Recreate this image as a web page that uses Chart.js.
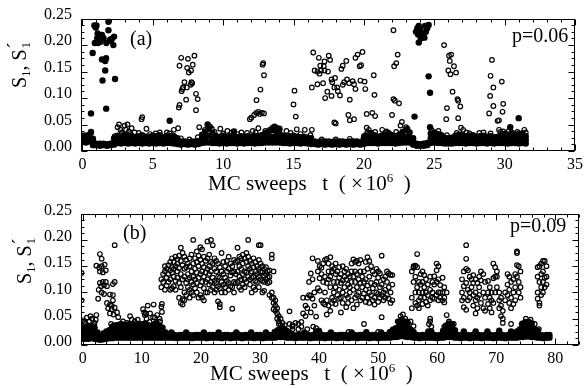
<!DOCTYPE html>
<html>
<head>
<meta charset="utf-8">
<script src="https://cdn.jsdelivr.net/npm/chart.js@4.4.0/dist/chart.umd.min.js"></script>
<style>
body { margin: 0; background: #fff; }
canvas { position: absolute; left: 0; }
#panelA { top: 0; }
#panelB { top: 195px; }
</style>
</head>
<body>
<canvas id="panelA" width="587" height="195"></canvas>
<canvas id="panelB" width="587" height="193"></canvas>
<script>
var FONT = '"Liberation Serif", "Times New Roman", serif';

// tick labels
var yTickValues = [0, 0.05, 0.10, 0.15, 0.20, 0.25];
var aTickValues = [0, 5, 10, 15, 20, 25, 30, 35];
var bTickValues = [0, 10, 20, 30, 40, 50, 60, 70, 80];

// rows are [t, S, S, ...]  (t in units of 10^6 MC sweeps)

// ---- panel (a), p=0.06 ----
var aFilledBand = [
 [0.0,0.017,0.023,0.029],[0.25,0.016,0.022,0.028],[0.5,0.018,0.025,0.031],[0.75,0.011,0.017,0.023],
 [1.0,0.011,0.014],[1.25,0.010,0.014],[1.5,0.011,0.014],[1.75,0.010,0.013],[2.0,0.011,0.014],
 [2.25,0.012,0.018,0.024],[2.5,0.015,0.022,0.029],[2.75,0.014,0.021,0.027],[3.0,0.015,0.022,0.030],
 [3.25,0.014,0.021,0.028],[3.5,0.015,0.022,0.029],[3.75,0.014,0.020,0.026],[4.0,0.015,0.021,0.028],
 [4.25,0.014,0.022,0.030],[4.5,0.015,0.021,0.027],[4.75,0.014,0.020,0.027],[5.0,0.015,0.022,0.029],
 [5.25,0.014,0.021,0.028],[5.5,0.015,0.022,0.030],[5.75,0.014,0.020,0.026],[6.0,0.015,0.022,0.029],
 [6.25,0.015,0.021,0.028],[6.5,0.014,0.021,0.028],[6.75,0.013,0.019,0.024],[7.0,0.012,0.018],
 [7.25,0.013,0.018],[7.5,0.012,0.017],[7.75,0.013,0.018],[8.0,0.012,0.018],[8.25,0.013,0.019],
 [8.5,0.015,0.023,0.031],[8.75,0.016,0.026,0.037],[9.0,0.016,0.028,0.042],[9.25,0.015,0.024,0.034],
 [9.5,0.015,0.021,0.028],[9.75,0.014,0.021,0.027],[10.0,0.015,0.022,0.029],[10.25,0.014,0.020,0.026],
 [10.5,0.015,0.021,0.028],[10.75,0.015,0.022,0.030],[11.0,0.014,0.020,0.026],[11.25,0.015,0.021,0.028],
 [11.5,0.014,0.020,0.027],[11.75,0.015,0.022,0.028],[12.0,0.015,0.021,0.027],[12.25,0.014,0.021,0.028],
 [12.5,0.015,0.022,0.029],[12.75,0.015,0.022,0.030],[13.0,0.016,0.025,0.034],[13.25,0.016,0.026,0.037],
 [13.5,0.016,0.027,0.040],[13.75,0.016,0.026,0.038],[14.0,0.016,0.024,0.033],[14.25,0.015,0.022,0.029],
 [14.5,0.015,0.021,0.027],[14.75,0.014,0.021,0.028],[15.0,0.015,0.022,0.029],[15.25,0.015,0.021,0.027],
 [15.5,0.014,0.020,0.026],[15.75,0.015,0.021,0.027],[16.0,0.014,0.020,0.025],[16.25,0.013,0.019,0.024],
 [16.5,0.013,0.018],[16.75,0.012,0.017],[17.0,0.013,0.018],[17.25,0.012,0.018],[17.5,0.013,0.018],
 [17.75,0.012,0.017],[18.0,0.013,0.018],[18.25,0.012,0.018],[18.5,0.013,0.018],[18.75,0.012,0.017],
 [19.0,0.013,0.018],[19.25,0.012,0.018],[19.5,0.013,0.018],[19.75,0.012,0.017],[20.0,0.013,0.019,0.024],
 [20.25,0.015,0.022,0.029],[20.5,0.015,0.024,0.034],[20.75,0.015,0.022,0.030],[21.0,0.014,0.021,0.027],
 [21.25,0.015,0.022,0.029],[21.5,0.015,0.022,0.030],[21.75,0.015,0.024,0.034],[22.0,0.015,0.022,0.030],
 [22.25,0.014,0.021,0.028],[22.5,0.015,0.023,0.031],[22.75,0.016,0.025,0.036],[23.0,0.016,0.027,0.040],
 [23.25,0.016,0.025,0.035],[23.5,0.012,0.018,0.024],[23.75,0.010,0.014],[24.0,0.010,0.013],
 [24.25,0.010,0.014],[24.5,0.011,0.015],[24.75,0.015,0.024,0.033],[25.0,0.016,0.025,0.035],
 [25.25,0.015,0.024,0.032],[25.5,0.015,0.022,0.030],[25.75,0.014,0.020,0.025],[26.0,0.014,0.019,0.024],
 [26.25,0.014,0.020,0.025],[26.5,0.015,0.022,0.029],[26.75,0.015,0.023,0.031],[27.0,0.015,0.022,0.030],
 [27.25,0.014,0.021,0.028],[27.5,0.015,0.022,0.029],[27.75,0.015,0.022,0.030],[28.0,0.014,0.021,0.027],
 [28.25,0.015,0.021,0.028],[28.5,0.015,0.022,0.029],[28.75,0.014,0.020,0.027],[29.0,0.015,0.021,0.028],
 [29.25,0.014,0.020,0.026],[29.5,0.015,0.021,0.027],[29.75,0.015,0.022,0.030],[30.0,0.015,0.023,0.032],
 [30.25,0.014,0.022,0.031],[30.5,0.015,0.024,0.034],[30.75,0.015,0.023,0.031],[31.0,0.014,0.022,0.030],
 [31.25,0.015,0.024,0.033],[31.5,0.014,0.021,0.028]
];
var aFilledPeaks = [
 [0.61,0.071,0.036],[0.73,0.185],[0.85,0.237],[1.0,0.237],[0.95,0.233],[1.08,0.222],[0.88,0.204],
 [1.1,0.204],[1.25,0.206],[1.05,0.213],[1.39,0.219,0.173],[1.5,0.213],[1.62,0.17,0.152],[1.68,0.175],
 [1.43,0.133],[1.69,0.08],[1.85,0.244,0.228],[1.97,0.21],[2.1,0.212],[2.25,0.216],[1.7,0.204],
 [2.0,0.208],[2.2,0.2],[2.32,0.136],[6.2,0.057],[8.9,0.05],[10.77,0.037],[13.66,0.046],[13.8,0.043],
 [14.0,0.042],[23.7,0.225],[23.8,0.232],[23.9,0.236,0.205],[24.0,0.228],[24.1,0.222],[24.2,0.218],
 [24.3,0.214],[24.4,0.225],[24.5,0.232],[24.6,0.238,0.141],[24.35,0.236],[23.85,0.22],[24.05,0.213],
 [24.7,0.11,0.045],[23.6,0.065],[31.0,0.062],[30.4,0.045]
];
var aOpenBand = [
 [0.2,0.03],[0.6,0.034],[2.3,0.028],[4.0,0.034],[4.8,0.032],[5.5,0.035],[6.2,0.033],[7.0,0.024],
 [7.6,0.022],[8.2,0.026],[8.7,0.04],[9.4,0.036],[10.0,0.033],[10.6,0.035],[11.0,0.032],[11.7,0.034],
 [12.3,0.035],[13.0,0.038],[13.5,0.044],[14.0,0.04],[14.8,0.034],[15.5,0.032],[16.2,0.03],[17.0,0.022],
 [18.0,0.022],[19.0,0.023],[20.0,0.028],[20.8,0.036],[21.5,0.034],[22.3,0.036],[23.1,0.042],[24.8,0.04],
 [25.3,0.038],[25.9,0.03],[26.6,0.034],[27.5,0.033],[28.2,0.034],[29.0,0.033],[29.7,0.036],[30.3,0.038],
 [30.9,0.036],[31.5,0.035]
];
var aOpenPeaks = [
 [2.5,0.045],[2.6,0.05],[2.7,0.04],[2.8,0.035],[3.0,0.048],[3.1,0.04],[3.2,0.05],[3.3,0.037],[3.5,0.043],
 [2.9,0.03],[3.4,0.032],[3.7,0.035],[4.2,0.06],[4.25,0.064],[4.55,0.042],[5.2,0.033],[6.0,0.035],[6.5,0.04],
 [7.02,0.176],[6.9,0.161,0.087],[7.5,0.174],[7.96,0.18],[7.84,0.163],[7.44,0.157],[7.56,0.148],
 [7.72,0.152],[7.25,0.13],[7.1,0.117],[7.15,0.12],[7.05,0.113],[7.42,0.12],[7.75,0.13],[7.8,0.128],
 [7.7,0.125],[8.07,0.108,0.077],[7.37,0.097],[8.19,0.098],[6.85,0.082],[6.8,0.043],[8.3,0.045],
 [9.08,0.046],[9.2,0.042],[9.8,0.042],[10.3,0.038],
 [11.9,0.06],[12.0,0.063],[12.2,0.068],[12.35,0.072],[12.5,0.074,0.043],[12.6,0.07],[12.75,0.072],
 [12.9,0.071,0.143],[12.37,0.096],[12.65,0.116],[12.8,0.163],[12.85,0.166],[12.1,0.038],[11.3,0.035],
 [13.3,0.04],[14.5,0.038],
 [15.07,0.114],[15.0,0.088],[15.16,0.065],[15.23,0.041],[15.8,0.04],[16.3,0.04,0.12],[16.4,0.186],
 [16.8,0.176],[17.2,0.169,0.152],[17.5,0.18],[17.6,0.172],[16.5,0.152],[16.7,0.15,0.126],[16.95,0.152],
 [16.85,0.146],[17.45,0.15],[16.9,0.161],[17.15,0.16],[17.7,0.135,0.104],[17.75,0.13],[17.95,0.138],
 [17.1,0.128],[17.4,0.112],[17.9,0.12,0.054],[18.1,0.12],[18.15,0.113],[18.3,0.105],[17.25,0.1],
 [18.4,0.155],[18.5,0.161,0.125],[18.75,0.17],[18.6,0.13],[18.8,0.135],[18.95,0.128],[19.2,0.132],
 [19.3,0.126,0.06],[19.4,0.117,0.176],[19.0,0.097,0.058],[19.55,0.182],[19.9,0.187],[19.7,0.16],
 [19.8,0.162],[19.75,0.133],[20.05,0.131],[20.1,0.117,0.03],[18.9,0.068],[18.0,0.052],[20.2,0.07,0.044],
 [20.6,0.072],[20.8,0.066],[20.75,0.106],[20.7,0.143],[20.35,0.04],[20.25,0.035],
 [22.1,0.228,0.098],[22.4,0.182],[22.3,0.166],[22.15,0.16],[22.2,0.095],[22.5,0.09],[22.0,0.068],
 [22.7,0.055],[22.6,0.048],[21.3,0.04],[21.6,0.037],[23.0,0.045],
 [25.7,0.2],[26.05,0.18],[26.2,0.182],[26.1,0.17],[26.4,0.16],[26.0,0.152],[26.15,0.145],[26.55,0.148],
 [26.3,0.112],[26.65,0.098],[26.7,0.095,0.062],[26.85,0.084],[25.9,0.081],[25.85,0.06],[26.9,0.044],
 [27.05,0.04],[27.3,0.035],
 [29.1,0.172],[29.0,0.142],[29.2,0.12,0.085],[28.97,0.104],[29.8,0.131],[29.9,0.089,0.037],[28.9,0.071],
 [29.85,0.074],[29.6,0.058,0.04],[29.5,0.057],[31.4,0.04],[30.5,0.035],[28.5,0.035],[31.0,0.033]
];

// ---- panel (b), p=0.09 ----
var bFilledBand = [
 [0.0,0.012,0.019,0.026,0.033],[0.5,0.012,0.020,0.028,0.035],[1.0,0.012,0.019,0.027,0.034],
 [1.5,0.013,0.020,0.028,0.036],[2.0,0.012,0.019,0.026,0.033],[2.5,0.011,0.017,0.024],[3.0,0.010,0.015],
 [3.5,0.011,0.017,0.022],[4.0,0.012,0.019,0.026],[4.5,0.013,0.020,0.028],[5.0,0.013,0.021,0.029,0.035],
 [5.5,0.014,0.021,0.029,0.037],[6.0,0.014,0.022,0.030,0.038],[6.5,0.014,0.022,0.031,0.040],
 [7.0,0.014,0.021,0.029,0.037],[7.5,0.014,0.022,0.030,0.038],[8.0,0.014,0.022,0.031,0.040],
 [8.5,0.014,0.021,0.029,0.036],[9.0,0.014,0.022,0.030,0.039],[9.5,0.014,0.022,0.031,0.040],
 [10.0,0.014,0.021,0.029,0.037],[10.5,0.014,0.022,0.031,0.041],[11.0,0.014,0.022,0.030,0.038],
 [11.5,0.014,0.021,0.029,0.036],[12.0,0.014,0.022,0.030,0.039],[12.5,0.014,0.022,0.031,0.040],
 [13.0,0.014,0.021,0.029,0.037],[13.5,0.014,0.020,0.027,0.033],[14.0,0.014,0.019,0.024],
 [14.5,0.014,0.019],[15.0,0.014,0.019,0.024],[15.5,0.014,0.019],[16.0,0.013,0.018],[16.5,0.014,0.019],
 [17.0,0.014,0.019],[17.5,0.014,0.019,0.024],[18.0,0.014,0.019],[18.5,0.013,0.018],[19.0,0.014,0.019],
 [19.5,0.014,0.019],[20.0,0.014,0.019],[20.5,0.014,0.019,0.024],[21.0,0.013,0.018],[21.5,0.014,0.019],
 [22.0,0.014,0.019],[22.5,0.014,0.019],[23.0,0.014,0.019,0.024],[23.5,0.013,0.018],[24.0,0.014,0.019],
 [24.5,0.014,0.019],[25.0,0.013,0.018],[25.5,0.014,0.019],[26.0,0.014,0.019,0.024],[26.5,0.014,0.019],
 [27.0,0.013,0.018],[27.5,0.014,0.019],[28.0,0.014,0.019],[28.5,0.014,0.019,0.024],[29.0,0.013,0.018],
 [29.5,0.014,0.019],[30.0,0.014,0.019],[30.5,0.013,0.018],[31.0,0.014,0.019,0.024],[31.5,0.014,0.019],
 [32.0,0.014,0.019],[32.5,0.014,0.020,0.025],[33.0,0.015,0.021,0.028],[33.5,0.015,0.022,0.030],
 [34.0,0.015,0.022,0.029],[34.5,0.014,0.020,0.026],[35.0,0.014,0.019,0.024],[35.5,0.014,0.019],
 [36.0,0.013,0.018],[36.5,0.014,0.019],[37.0,0.014,0.019],[37.5,0.014,0.019,0.024],[38.0,0.014,0.019],
 [38.5,0.013,0.018],[39.0,0.014,0.019],[39.5,0.014,0.020,0.026],[40.0,0.014,0.020,0.026],
 [40.5,0.014,0.019],[41.0,0.013,0.018],[41.5,0.014,0.019],[42.0,0.014,0.019,0.024],[42.5,0.014,0.019],
 [43.0,0.013,0.018],[43.5,0.014,0.019],[44.0,0.014,0.019],[44.5,0.014,0.019],[45.0,0.013,0.018],
 [45.5,0.014,0.019,0.024],[46.0,0.014,0.019],[46.5,0.013,0.018],[47.0,0.014,0.019],[47.5,0.014,0.019],
 [48.0,0.014,0.019,0.024],[48.5,0.013,0.018],[49.0,0.014,0.019],[49.5,0.014,0.019],[50.0,0.013,0.018],
 [50.5,0.014,0.019,0.024],[51.0,0.014,0.019],[51.5,0.014,0.019],[52.0,0.014,0.020,0.025],
 [52.5,0.015,0.022,0.029],[53.0,0.015,0.023,0.032],[53.5,0.016,0.025,0.035,0.044],
 [54.0,0.017,0.027,0.038,0.048],[54.5,0.016,0.026,0.036,0.045],[55.0,0.015,0.024,0.033,0.041],
 [55.5,0.015,0.022,0.029],[56.0,0.014,0.020,0.025],[56.5,0.014,0.019],[57.0,0.013,0.018],
 [57.5,0.014,0.019],[58.0,0.014,0.019],[58.5,0.014,0.020,0.026],[59.0,0.014,0.020,0.026],
 [59.5,0.014,0.019],[60.0,0.013,0.018],[60.5,0.014,0.019],[61.0,0.014,0.021,0.027],
 [61.5,0.015,0.023,0.031,0.037],[62.0,0.015,0.024,0.033,0.041],[62.5,0.015,0.023,0.032,0.039],
 [63.0,0.014,0.021,0.028],[63.5,0.014,0.019],[64.0,0.013,0.018],[64.5,0.014,0.020,0.026],
 [65.0,0.014,0.019],[65.5,0.013,0.018],[66.0,0.014,0.019],[66.5,0.014,0.020,0.026],[67.0,0.014,0.019],
 [67.5,0.013,0.018],[68.0,0.014,0.019],[68.5,0.014,0.020,0.026],[69.0,0.014,0.019],[69.5,0.013,0.018],
 [70.0,0.014,0.019],[70.5,0.014,0.020,0.027],[71.0,0.014,0.019],[71.5,0.013,0.018],[72.0,0.014,0.019],
 [72.5,0.014,0.020,0.026],[73.0,0.014,0.019],[73.5,0.014,0.020,0.026],[74.0,0.015,0.022,0.030],
 [74.5,0.015,0.024,0.033,0.041],[75.0,0.016,0.025,0.035,0.044],[75.5,0.016,0.025,0.035,0.044],
 [76.0,0.015,0.024,0.033,0.041],[76.5,0.015,0.022,0.030],[77.0,0.014,0.021,0.027],[77.5,0.014,0.019],
 [78.0,0.013,0.018],[78.5,0.014,0.019],[79.0,0.014,0.019]
];
var bOpenLow = [
 [0.1,0.047],[0.3,0.043],[0.5,0.04],[0.8,0.035],[1.1,0.045],[1.3,0.055],[1.6,0.05],[1.8,0.038],
 [2.0,0.042],[2.2,0.048],[0.7,0.052],[2.3,0.057],[6.5,0.04],[9.0,0.038],[33.6,0.03],[34.5,0.028],
 [35.5,0.035],[36.5,0.03],[38.0,0.03],[39.0,0.035],[40.0,0.028],[45.0,0.025],[48.0,0.025],[50.0,0.025],
 [53.3,0.045],[53.8,0.055],[54.2,0.058],[54.6,0.05],[55.0,0.044],[55.5,0.045],[56.0,0.036],[58.6,0.04],
 [58.8,0.045],[59.0,0.035],[61.2,0.035],[62.0,0.045],[62.8,0.04],[74.3,0.04],[75.0,0.05],[75.8,0.048],
 [76.5,0.04],[77.2,0.03]
];
var bOpenEarly = [
 [-0.2,0.137,0.085],[2.9,0.173,0.14,0.118],[3.2,0.164,0.15,0.1],[2.3,0.151],[2.8,0.147],[3.7,0.153],
 [3.4,0.138,0.12],[3.9,0.142,0.12],[5.4,0.19,0.12,0.071],[3.1,0.112],[3.6,0.114,0.097],[4.1,0.112,0.08],
 [2.7,0.105],[2.6,0.088],[5.1,0.116,0.095,0.085,0.036],[4.6,0.096,0.077,0.06],[4.9,0.075,0.068],
 [4.3,0.07],[5.2,0.058],[5.8,0.062],[6.0,0.053,0.035],[4.8,0.04],[6.3,0.038],[7.0,0.035],[8.0,0.055],
 [8.3,0.048],[8.8,0.045],[9.3,0.048],[9.8,0.04],[10.2,0.068],[10.4,0.062],[10.5,0.057],[10.7,0.06],
 [11.0,0.075],[11.4,0.06],[10.8,0.05],[11.3,0.044],[11.9,0.053],[12.0,0.077],[12.2,0.052],[12.6,0.057],
 [13.0,0.05],[13.3,0.073],[13.4,0.063,0.078],[13.1,0.045],[7.5,0.042],[12.4,0.042],[11.7,0.035],[6.8,0.045]
];
var bOpenCloud1 = [
 [13.3,0.11,0.125],[13.6,0.135,0.12],[13.9,0.14,0.105,0.15],[14.2,0.145,0.128,0.113],
 [14.5,0.152,0.135,0.12],[14.8,0.142,0.158,0.125,0.105],[15.1,0.165,0.138,0.148,0.108],
 [15.4,0.158,0.13,0.112,0.145],[15.7,0.168,0.15,0.122,0.105],[16.0,0.163,0.14,0.128,0.155],
 [16.3,0.17,0.146,0.118,0.09],[16.6,0.185,0.16,0.135,0.08,0.11],[16.9,0.175,0.152,0.125,0.087,0.077],
 [17.2,0.168,0.145,0.13,0.1,0.085],[17.5,0.162,0.148,0.118,0.095],[17.8,0.155,0.135,0.11,0.125],
 [18.1,0.165,0.15,0.128,0.105,0.09],[18.4,0.172,0.14,0.12,0.1],[18.7,0.2,0.155,0.13,0.115,0.095],
 [19.0,0.165,0.145,0.125,0.108],[19.3,0.178,0.158,0.138,0.118,0.1],[19.6,0.17,0.15,0.128,0.09],
 [19.9,0.186,0.162,0.135,0.113,0.095],[20.2,0.182,0.155,0.14,0.12,0.09],[20.5,0.168,0.148,0.13,0.108,0.085],
 [20.8,0.16,0.138,0.12,0.1],[21.1,0.197,0.165,0.145,0.125,0.1],[21.4,0.172,0.15,0.135,0.115],
 [21.7,0.2,0.158,0.14,0.12,0.105],[22.0,0.19,0.155,0.128,0.11],[22.3,0.165,0.145,0.122,0.1],
 [22.6,0.16,0.14,0.118,0.105],[22.9,0.155,0.13,0.112,0.083],[23.2,0.148,0.128,0.108,0.072,0.078],
 [23.5,0.175,0.14,0.12,0.1],[23.8,0.158,0.135,0.115],[24.1,0.15,0.128,0.11,0.1],[24.4,0.16,0.14,0.122],
 [24.7,0.168,0.145,0.118,0.105],[25.0,0.155,0.132,0.112],[25.3,0.15,0.138,0.11,0.069],
 [25.6,0.162,0.14,0.12,0.1],[25.9,0.158,0.135,0.118],[26.2,0.185,0.16,0.14,0.12],[26.5,0.168,0.15,0.13,0.11],
 [26.8,0.165,0.145,0.125,0.105],[27.1,0.172,0.155,0.135,0.115],[27.4,0.165,0.14,0.125,0.11],
 [27.7,0.175,0.158,0.138,0.12],[28.0,0.2,0.168,0.15,0.13],[28.3,0.16,0.145,0.125,0.115],
 [28.6,0.155,0.14,0.128,0.1],[28.9,0.165,0.148,0.13,0.11],[29.2,0.158,0.14,0.122,0.105],
 [29.5,0.15,0.135,0.12],[29.8,0.19,0.162,0.145,0.13,0.11],[30.1,0.19,0.155,0.14,0.125],
 [30.4,0.15,0.138,0.122,0.1],[30.7,0.145,0.132,0.12,0.103],[31.0,0.148,0.135,0.125],[31.3,0.14,0.128,0.118],
 [31.6,0.142,0.13,0.12,0.095],[32.0,0.172,0.165,0.1,0.09],[32.3,0.14,0.09,0.08,0.068],[32.6,0.085,0.075,0.065],
 [32.9,0.07,0.06,0.05],[33.2,0.055,0.045,0.04],[33.5,0.05,0.038,0.032],[33.8,0.042,0.035],[34.2,0.038,0.03],
 [35.0,0.064,0.04],[35.5,0.038,0.03],[36.0,0.042],[36.5,0.04],[37.0,0.044,0.035]
];
var bOpenCloud2 = [
 [37.3,0.09,0.06],[37.7,0.075,0.055],[38.0,0.09,0.07],[38.3,0.095,0.12],[38.6,0.136,0.094,0.062],
 [38.9,0.165,0.125,0.088],[39.2,0.1,0.075],[39.5,0.032,0.054],[39.8,0.108,0.14,0.16],[40.1,0.103,0.127,0.15],
 [40.4,0.135,0.085,0.147],[40.7,0.155,0.12,0.08],[41.0,0.162,0.13,0.1,0.077],[41.3,0.164,0.118,0.085,0.058],
 [41.6,0.155,0.14,0.125,0.075],[41.9,0.167,0.13,0.11,0.065],[42.2,0.15,0.14,0.09,0.08],
 [42.5,0.145,0.12,0.1,0.085],[42.8,0.155,0.135,0.11,0.078],[43.1,0.14,0.12,0.095],
 [43.4,0.148,0.128,0.105,0.088],[43.7,0.135,0.118,0.09,0.062],[44.0,0.15,0.123,0.1,0.08],
 [44.3,0.14,0.13,0.11],[44.6,0.145,0.125,0.095,0.072],[44.9,0.135,0.115,0.09,0.08],[45.2,0.13,0.11,0.1],
 [45.5,0.155,0.14,0.12,0.085],[45.8,0.163,0.13,0.105,0.07],[46.1,0.158,0.14,0.12,0.09],
 [46.4,0.16,0.135,0.11,0.095,0.077],[46.7,0.155,0.125,0.1],[47.0,0.162,0.14,0.118,0.085],
 [47.3,0.13,0.11,0.09],[47.6,0.14,0.12,0.04,0.098],[47.9,0.158,0.125,0.105,0.082],
 [48.2,0.167,0.145,0.113,0.09],[48.5,0.16,0.13,0.1,0.08],[48.8,0.15,0.118,0.095],[49.1,0.14,0.108,0.085],
 [49.4,0.135,0.115,0.09,0.077],[49.7,0.145,0.12,0.1],[50.0,0.14,0.128,0.097,0.082],[50.3,0.136,0.11,0.09],
 [50.6,0.17,0.115,0.095,0.053],[50.9,0.125,0.1,0.085],[51.2,0.13,0.105,0.09],[51.5,0.14,0.12,0.095],
 [51.8,0.136,0.11,0.088],[52.1,0.133,0.1,0.08],[52.4,0.133,0.115,0.085]
];
var bOpenCloud3 = [
 [55.7,0.14,0.09,0.07],[56.0,0.15,0.147,0.12],[56.3,0.151,0.13,0.1,0.08],[56.6,0.173,0.148,0.11,0.075],
 [56.9,0.12,0.1,0.085,0.07],[57.2,0.135,0.115,0.09],[57.5,0.14,0.12,0.1,0.078],[57.8,0.133,0.11,0.09],
 [58.1,0.125,0.1,0.082],[58.4,0.115,0.095,0.075],[58.8,0.13,0.105,0.085,0.05],[59.2,0.12,0.1,0.09],
 [59.5,0.131,0.115,0.088],[59.9,0.155,0.142,0.12,0.095],[60.2,0.15,0.125,0.1,0.085],[60.5,0.114,0.1,0.09],
 [60.9,0.128,0.1,0.085],[61.2,0.11,0.09,0.081],[61.6,0.1,0.057]
];
var bOpenCloud4 = [
 [64.2,0.125,0.1,0.085],[64.5,0.14,0.112,0.09,0.072],[64.9,0.19,0.164,0.145,0.118,0.067],
 [65.2,0.142,0.105,0.085],[65.5,0.13,0.1,0.09],[65.8,0.125,0.11],[66.1,0.133,0.118,0.095,0.075],
 [66.5,0.125,0.1,0.085,0.06],[66.8,0.118,0.09,0.07],[67.1,0.13,0.11,0.095],[67.4,0.14,0.123,0.08],
 [67.8,0.135,0.1,0.07],[68.1,0.12,0.09,0.065],[68.6,0.122,0.1,0.078],[68.9,0.11,0.09,0.07],
 [69.2,0.1,0.085,0.062],[69.5,0.155,0.127,0.08],[69.8,0.148,0.13,0.1],[70.1,0.14,0.13,0.11],
 [70.5,0.1,0.085,0.07],[70.8,0.09,0.075,0.055],[71.1,0.065,0.05,0.042],[71.5,0.1,0.085],
 [71.9,0.135,0.115,0.095],[72.2,0.13,0.105,0.08],[72.5,0.12,0.09,0.07,0.04],[72.9,0.125,0.1,0.078],
 [73.2,0.135,0.11,0.085],[73.5,0.178,0.175,0.152,0.13],[73.8,0.15,0.12,0.1],[74.1,0.14,0.11,0.09],
 [77.0,0.148,0.13,0.1,0.088],[77.3,0.15,0.12,0.08,0.075],[77.6,0.155,0.135,0.11,0.095],
 [77.9,0.16,0.14,0.12,0.1],[78.2,0.16,0.128,0.11],[78.5,0.15,0.13,0.115]
];

function rowsToPoints() {
    var pts = [];
    for (var k = 0; k < arguments.length; k++) {
        arguments[k].forEach(function(r){
            for (var i = 1; i < r.length; i++) pts.push({x: r[0], y: r[i]});
        });
    }
    return pts;
}

// draws a list of text pieces one after another: {t: text, s: size, dy: shift, dx: extra gap}
function drawRuns(ctx, runs, x, y) {
    var cx = x;
    runs.forEach(function(r){
        cx += r.dx || 0;
        ctx.font = r.s + 'px ' + FONT;
        ctx.fillText(r.t, cx, y + (r.dy || 0));
        if (!r.stay) cx += ctx.measureText(r.t).width;
    });
    return cx - x;
}

var decor = {
    id: 'decor',
    afterDatasetsDraw: function(chart, args, o) {
        var ctx = chart.ctx, a = chart.chartArea, xs = chart.scales.x, ys = chart.scales.y;
        var L = Math.round(a.left) + 0.5, R = Math.round(a.right) - 0.5;
        var T = Math.round(a.top) + 0.5, B = Math.round(a.bottom) - 0.5;
        ctx.save();
        ctx.strokeStyle = '#000';
        ctx.lineWidth = 1;
        ctx.strokeRect(L, T, R - L, B - T);
        ctx.beginPath();
        var i, v, len, p;
        for (i = 0; i * o.xMinor <= o.xEnd + 1e-9; i++) {
            v = i * o.xMinor;
            len = (i % o.xSub === 0) ? 6 : 3;
            p = Math.round(xs.getPixelForValue(v)) + 0.5;
            ctx.moveTo(p, B); ctx.lineTo(p, B - len);
            ctx.moveTo(p, T); ctx.lineTo(p, T + len);
        }
        for (i = 0; i * 0.0125 <= 0.25 + 1e-9; i++) {
            v = i * 0.0125;
            len = (i % 4 === 0) ? 6 : 3;
            p = Math.round(ys.getPixelForValue(v)) + 0.5;
            ctx.moveTo(L, p); ctx.lineTo(L + len, p);
            ctx.moveTo(R, p); ctx.lineTo(R - len, p);
        }
        ctx.stroke();

        ctx.fillStyle = '#000';
        ctx.textBaseline = 'alphabetic';
        ctx.textAlign = 'left';
        ctx.font = '20px ' + FONT;
        ctx.fillText(o.tag, o.tagX, o.tagY);
        ctx.fillText(o.pText, o.pX, o.pY);

        // x title
        drawRuns(ctx, [
            {t: 'MC sweeps   t  ( \u00d7', s: 21},
            {t: '10', s: 21, dx: 3},
            {t: '6', s: 13, dy: -8},
            {t: '  )', s: 21}
        ], o.xtX, o.xtY);

        // y title  S1, S1'
        ctx.save();
        ctx.translate(o.ytX, o.ytY);
        ctx.rotate(-Math.PI / 2);
        var runs = [
            {t: 'S', s: 20},
            {t: '1', s: 13, dy: 4},
            {t: ', S', s: 20},
            {t: '\u00b4', s: 18, dy: -6, stay: true, dx: 1},
            {t: '1', s: 13, dy: 4}
        ];
        ctx.globalAlpha = 0;
        var w = drawRuns(ctx, runs, 0, 0);
        ctx.globalAlpha = 1;
        drawRuns(ctx, runs, -w / 2, 0);
        ctx.restore();

        ctx.restore();
    }
};

function panel(canvasID, filled, open, lay) {
    return new Chart(document.getElementById(canvasID), {
        type: 'scatter',
        data: {
            datasets: [{
                data: open,
                pointRadius: 2.3,
                pointBorderWidth: 1.2,
                pointBorderColor: '#000',
                pointBackgroundColor: 'rgba(0,0,0,0)'
            }, {
                data: filled,
                pointRadius: 3.2,
                pointBorderWidth: 0,
                pointBackgroundColor: '#000'
            }]
        },
        options: {
            responsive: false,
            animation: false,
            events: [],
            layout: { padding: { top: lay.top, right: 8, left: 0, bottom: 0 } },
            plugins: {
                legend: { display: false },
                tooltip: { enabled: false },
                decor: lay.decor
            },
            scales: {
                x: {
                    type: 'linear', min: lay.xMin, max: lay.xMax,
                    afterBuildTicks: function(s){ s.ticks = lay.xTicks.map(function(v){ return {value: v}; }); },
                    afterFit: function(s){ s.height = lay.xH; },
                    grid: { display: false, drawTicks: false },
                    border: { display: false },
                    ticks: { padding: 4, color: '#000', maxRotation: 0, autoSkip: false,
                             font: { size: 16, family: FONT },
                             callback: function(v){ return String(v); } }
                },
                y: {
                    type: 'linear', min: 0, max: 0.25,
                    afterBuildTicks: function(s){ s.ticks = yTickValues.map(function(v){ return {value: v}; }); },
                    afterFit: function(s){ s.width = 81; },
                    grid: { display: false, drawTicks: false },
                    border: { display: false },
                    ticks: { padding: 9, color: '#000', labelOffset: lay.yLabelOffset,
                             font: { size: 16, family: FONT },
                             callback: function(v){ return v.toFixed(2); } }
                }
            }
        },
        plugins: [decor]
    });
}

panel('panelA',
    rowsToPoints(aFilledBand, aFilledPeaks),
    rowsToPoints(aOpenBand, aOpenPeaks),
    { top: 15, xH: 44, xMin: -0.1, xMax: 35, xTicks: aTickValues, yLabelOffset: -4,
      decor: { xMinor: 1, xSub: 5, xEnd: 35, tag: '(a)', tagX: 130, tagY: 45,
               pText: 'p=0.06', pX: 512, pY: 42, xtX: 208, xtY: 190, ytX: 26, ytY: 65 } });

panel('panelB',
    rowsToPoints(bFilledBand),
    rowsToPoints(bOpenLow, bOpenEarly, bOpenCloud1, bOpenCloud2, bOpenCloud3, bOpenCloud4),
    { top: 13, xH: 43, xMin: -0.3, xMax: 84, xTicks: bTickValues, yLabelOffset: -3,
      decor: { xMinor: 2, xSub: 5, xEnd: 84, tag: '(b)', tagX: 123, tagY: 44,
               pText: 'p=0.09', pX: 510, pY: 37, xtX: 210, xtY: 185, ytX: 31, ytY: 66 } });
</script>
</body>
</html>
